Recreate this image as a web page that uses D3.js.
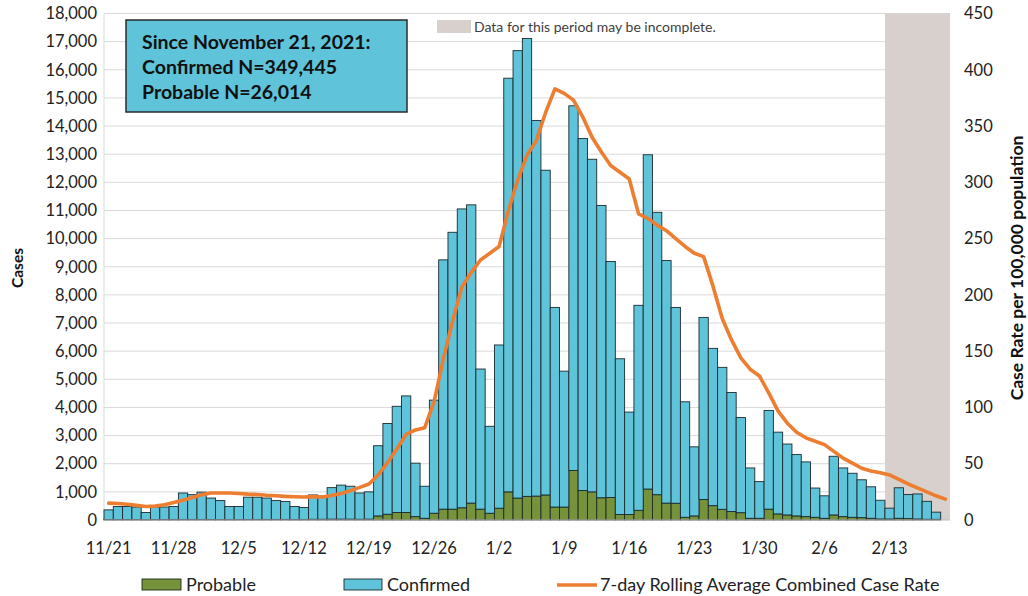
<!DOCTYPE html>
<html><head><meta charset="utf-8">
<script src="https://cdn.jsdelivr.net/npm/d3@7"></script>
<style>body{margin:0;background:#fff;} svg{display:block;font-family:Lato,"Open Sans",sans-serif;}</style>
</head><body>
<svg id="c" width="1028" height="596"></svg>
<script>
const startDate = new Date(2021, 10, 21);
const endDate = new Date(2022, 1, 20); // exclusive
const tickLabels = ["11/21","11/28","12/5","12/12","12/19","12/26","1/2","1/9","1/16","1/23","1/30","2/6","2/13"];
const probable = [15,15,15,15,10,15,15,15,20,20,
  20,20,15,15,15,20,20,20,20,20,
  15,15,25,25,30,30,30,25,30,145,
  205,265,265,120,60,240,385,385,435,600,
  385,240,420,1000,780,840,850,890,460,460,
  1760,1050,1000,790,800,195,195,345,1100,900,
  600,595,96,145,730,510,380,300,260,60,
  60,385,217,180,145,120,96,60,180,120,
  96,84,60,36,36,60,48,36,24,24,0];
const confirmed = [345,465,465,445,255,445,445,465,940,880,
  970,760,675,465,465,790,790,760,670,640,
  465,430,865,825,1120,1210,1170,935,970,2495,
  3225,3775,4145,1900,1140,4020,8860,9840,10620,10600,
  4980,3090,5800,14700,15900,16270,13350,11540,7095,4830,
  12960,12505,11820,10390,8385,5535,3640,7285,11880,10035,
  8620,6960,4105,2455,6470,5590,5045,4230,3380,1790,
  1305,3505,2905,2520,2180,1945,1040,800,2085,1730,
  1565,1345,1120,665,385,1085,855,890,640,255,0];
const rate = [15,14.6,14,13,12,12.3,13.5,15.5,17.5,20,
  22.5,24,24,24,23.5,23,22.7,22,21.5,21,
  20.7,20.5,20.8,20.5,21.7,23.5,26,29,32,40,
  51,63,76,80,82,105,143,177,207,220,
  231,237,243,275,302,324,337,362,383,379,
  373,358,340,327,315,309,303,272,268,262,
  257,250,243,237,234,208,179,160,144,134,
  128,113,97,86,78,73,70,67,61,55,
  50.5,46,43.5,42,40,36,32,28.5,25,21.5,18.5];
const incompleteDays = 7;
const leftTicks = d3.range(0, 18001, 1000);
const rightTicks = d3.range(0, 451, 50);
const boxLines = ["Since November 21, 2021:", "Confirmed N=349,445", "Probable N=26,014"];

const fmtMD = d3.timeFormat("%-m/%-d");
const days = d3.timeDay.range(startDate, endDate).map(fmtMD);
const data = days.map((d,i)=>({d, p: probable[i], c: confirmed[i], r: rate[i]}));

const L = 104, R = 950, T = 13.5, B = 520;
const svg = d3.select("#c");
const x = d3.scaleBand().domain(days).range([L, R]).padding(0);
const y = d3.scaleLinear().domain([0, 18000]).range([B, T]);
const y2 = d3.scaleLinear().domain([0, 450]).range([B, T]);

// gridlines
svg.append("g").selectAll("line").data(leftTicks.slice(1)).join("line")
  .attr("x1", L).attr("x2", R).attr("y1", d=>y(d)).attr("y2", d=>y(d))
  .attr("stroke", "#d9d9d9").attr("stroke-width", 1);
svg.append("line").attr("x1", L).attr("x2", L).attr("y1", T).attr("y2", B).attr("stroke", "#d9d9d9");

// incomplete shading
const shadeStart = days[days.length - incompleteDays];
svg.append("rect").attr("x", x(shadeStart)).attr("y", T)
  .attr("width", R - x(shadeStart)).attr("height", B - T).attr("fill", "#d8d0cc");

// bars
const barG = svg.append("g");
barG.selectAll(".p").data(data).join("rect")
  .attr("x", d=>x(d.d)).attr("width", x.bandwidth())
  .attr("y", d=>y(d.p)).attr("height", d=>B - y(d.p))
  .attr("fill", "#76933c").attr("stroke", "#1e2a1e").attr("stroke-width", 0.9)
  .attr("display", d=>d.p>0?null:"none");
barG.selectAll(".c").data(data).join("rect")
  .attr("x", d=>x(d.d)).attr("width", x.bandwidth())
  .attr("y", d=>y(d.p + d.c)).attr("height", d=>y(d.p) - y(d.p + d.c))
  .attr("fill", "#5fc3d9").attr("stroke", "#1b2a2e").attr("stroke-width", 0.9)
  .attr("display", d=>d.c>0?null:"none");

// baseline
svg.append("line").attr("x1", L).attr("x2", R).attr("y1", B).attr("y2", B).attr("stroke", "#bfbfbf").attr("stroke-width", 1.2);

// line
const line = d3.line().x(d=>x(d.d) + x.bandwidth()/2).y(d=>y2(d.r)).curve(d3.curveLinear);
svg.append("path").datum(data).attr("d", line).attr("fill", "none")
  .attr("stroke", "#ed7d31").attr("stroke-width", 3.6).attr("stroke-linejoin", "round").attr("stroke-linecap", "round");

// axes labels
const fmt = d3.format(",");
svg.append("g").selectAll("text").data(leftTicks).join("text")
  .attr("x", 97).attr("y", d=>y(d)).attr("dy", "0.35em").attr("text-anchor", "end")
  .attr("font-size", 16.5).attr("fill", "#222").text(d=>fmt(d));
svg.append("g").selectAll("text").data(rightTicks).join("text")
  .attr("x", 964).attr("y", d=>y2(d)).attr("dy", "0.35em").attr("text-anchor", "start")
  .attr("font-size", 16.5).attr("fill", "#222").text(d=>d);
svg.append("g").selectAll("text").data(tickLabels).join("text")
  .attr("x", d=>x(d) + x.bandwidth()/2).attr("y", 548).attr("dy", "0.35em").attr("text-anchor", "middle")
  .attr("font-size", 16.5).attr("fill", "#222").text(d=>d);

svg.append("text").attr("transform", "translate(23,268) rotate(-90)").attr("text-anchor", "middle")
  .attr("font-size", 15.5).attr("font-weight", "bold").attr("fill", "#111").text("Cases");
svg.append("text").attr("transform", "translate(1023,268) rotate(-90)").attr("text-anchor", "middle")
  .attr("font-size", 17.5).attr("font-weight", "bold").attr("fill", "#111").text("Case Rate per 100,000 population");

// annotation box
svg.append("rect").attr("x", 126).attr("y", 20).attr("width", 281).attr("height", 92)
  .attr("fill", "#5fc3d9").attr("stroke", "#2b2b2b").attr("stroke-width", 1.5);
svg.append("g").selectAll("text").data(boxLines).join("text")
  .attr("x", 142).attr("y", (d,i)=>42 + i*25).attr("dy", "0.35em")
  .attr("font-size", 19.5).attr("font-weight", "bold").attr("fill", "#111").text(d=>d);

// incomplete legend
svg.append("rect").attr("x", 437).attr("y", 20).attr("width", 34).attr("height", 13).attr("fill", "#d8d0cc");
svg.append("text").attr("x", 474).attr("y", 27).attr("dy", "0.35em").attr("font-size", 14)
  .attr("fill", "#404040").text("Data for this period may be incomplete.");

// bottom legend
const lg = svg.append("g");
lg.append("rect").attr("x", 142).attr("y", 579).attr("width", 39).attr("height", 11).attr("fill", "#76933c").attr("stroke", "#1e2a1e").attr("stroke-width", 0.9);
lg.append("text").attr("x", 186).attr("y", 585).attr("dy", "0.35em").attr("font-size", 18).attr("fill", "#222").text("Probable");
lg.append("rect").attr("x", 344).attr("y", 579).attr("width", 38).attr("height", 11).attr("fill", "#5fc3d9").attr("stroke", "#1b2a2e").attr("stroke-width", 0.9);
lg.append("text").attr("x", 387).attr("y", 585).attr("dy", "0.35em").attr("font-size", 18).attr("fill", "#222").text("Confirmed");
lg.append("line").attr("x1", 557).attr("x2", 597).attr("y1", 585).attr("y2", 585).attr("stroke", "#ed7d31").attr("stroke-width", 3.6);
lg.append("text").attr("x", 600).attr("y", 585).attr("dy", "0.35em").attr("font-size", 18).attr("fill", "#222").text("7-day Rolling Average Combined Case Rate");
</script>
</body></html>
